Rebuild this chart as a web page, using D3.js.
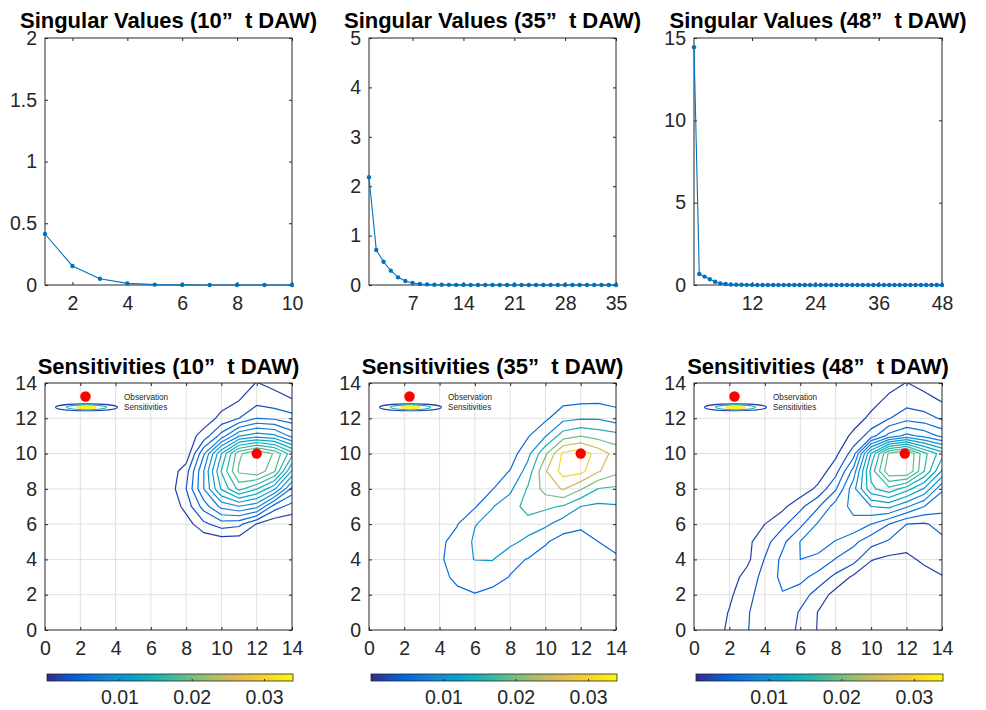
<!DOCTYPE html>
<html>
<head>
<meta charset="utf-8">
<script src="https://cdn.jsdelivr.net/npm/d3@7"></script>
<style>
  body { margin: 0; background: #fff; }
  text { font-family: "Liberation Sans", Arial, Helvetica, sans-serif; }
</style>
</head>
<body>
<svg id="fig" width="986" height="710"></svg>
<script>
// ---- data ----
const runLabels = ['10', '35', '48'];

// singular values, index 1..n
const sv10 = [0.413, 0.154, 0.051, 0.013, 0.003, 0.001, 0, 0, 0, 0];
const sv35 = [2.18, 0.71, 0.47, 0.29, 0.155, 0.08, 0.04, 0.02, 0.012, 0.006,
  0.004, 0.003, 0.002, 0.002, 0.001, 0.001, 0.001, 0, 0, 0,
  0, 0, 0, 0, 0, 0, 0, 0, 0, 0,
  0, 0, 0, 0, 0];
const sv48 = [14.44, 0.67, 0.51, 0.345, 0.2, 0.1, 0.06, 0.03, 0.02, 0.012,
  0.008, 0.006, 0.004, 0.003, 0.002, 0.002, 0.001, 0.001, 0.001, 0.001,
  0, 0, 0, 0, 0, 0, 0, 0, 0, 0,
  0, 0, 0, 0, 0, 0, 0, 0, 0, 0,
  0, 0, 0, 0, 0, 0, 0, 0];
const svYMax = [2, 5, 15];
const svYTicks = [[0, 0.5, 1, 1.5, 2], [0, 1, 2, 3, 4, 5], [0, 5, 10, 15]];
const svXTicks = [[2, 4, 6, 8, 10], [7, 14, 21, 28, 35], [12, 24, 36, 48]];

// sensitivities (x 1e-4) on the 0..14 grid; rows run from y = 14 (top) to y = 0, columns x = 0..14
const sens10 = [
  [0, 0, 0, 0, 0, 0, 0, 0, 0, 2, 5, 10, 16.5, 12, 8],
  [0, 0, 0, 0, 0, 0, 0, 0, 2, 6, 10, 16, 26, 22, 17],
  [0, 0, 0, 0, 0, 0, 0, 2, 6, 8, 20, 32, 48, 45, 38],
  [0, 0, 0, 0, 0, 0, 0, 3, 8, 22, 55, 95, 105, 100, 75],
  [0, 0, 0, 0, 0, 0, 0, 2, 4, 62, 128, 188, 210, 190, 150],
  [0, 0, 0, 0, 0, 0, 0, 5, 25, 80, 145, 195, 205, 178, 110],
  [0, 0, 0, 0, 0, 0, 0, 6, 32, 80, 130, 165, 145, 115, 60],
  [0, 0, 0, 0, 0, 0, 0, 2, 22, 55, 85, 95, 85, 40, 25],
  [0, 0, 0, 0, 0, 0, 0, 0, 8, 28, 40, 36, 15, 4, 5],
  [0, 0, 0, 0, 0, 0, 0, 0, 0, 3, 6, 6, 5, 2, 2],
  [0, 0, 0, 0, 0, 0, 0, 0, 0, 0, 0, 0, 0, 0, 0],
  [0, 0, 0, 0, 0, 0, 0, 0, 0, 0, 0, 0, 0, 0, 0],
  [0, 0, 0, 0, 0, 0, 0, 0, 0, 0, 0, 0, 0, 0, 0],
  [0, 0, 0, 0, 0, 0, 0, 0, 0, 0, 0, 0, 0, 0, 0],
  [0, 0, 0, 0, 0, 0, 0, 0, 0, 0, 0, 0, 0, 0, 0]
];
const sens35 = [
  [0, 0, 0, 0, 0, 0, 0, 0, 0, 3, 8, 15, 20, 22, 20],
  [0, 0, 0, 0, 0, 0, 0, 0, 3, 10, 20, 35, 40, 42, 35],
  [0, 0, 0, 0, 0, 0, 0, 3, 8, 20, 40, 85, 95, 95, 75],
  [0, 0, 0, 0, 0, 0, 2, 6, 10, 45, 97, 175, 198, 180, 169],
  [0, 0, 0, 0, 0, 0, 5, 12, 25, 85, 190, 310, 330, 280, 230],
  [0, 0, 0, 0, 0, 3, 12, 25, 52, 120, 245, 320, 315, 255, 215],
  [0, 0, 0, 0, 2, 10, 25, 48, 90, 155, 220, 255, 205, 148, 140],
  [0, 0, 0, 0, 10, 25, 45, 98, 125, 170, 160, 145, 100, 90, 95],
  [0, 0, 0, 0, 20, 48, 98, 115, 130, 130, 110, 75, 62, 70, 75],
  [0, 0, 0, 2, 42, 64, 108, 120, 115, 85, 55, 30, 25, 50, 60],
  [0, 0, 0, 5, 38, 88, 101, 102, 62, 48, 30, 15, 12, 25, 45],
  [0, 0, 0, 3, 30, 65, 70, 70, 48, 25, 15, 8, 5, 12, 25],
  [0, 0, 0, 0, 20, 35, 48, 35, 25, 12, 5, 3, 2, 5, 10],
  [0, 0, 0, 0, 8, 20, 25, 20, 12, 5, 2, 0, 0, 2, 4],
  [0, 0, 0, 0, 3, 10, 12, 10, 5, 2, 0, 0, 0, 0, 0]
];
const sens48 = [
  [0, 0, 0, 0, 0, 0, 0, 0, 0, 0, 4, 10, 16.5, 10, 6],
  [0, 0, 0, 0, 0, 0, 0, 0, 0, 4, 10, 20, 25, 22, 15],
  [0, 0, 0, 0, 0, 0, 0, 0, 3, 8, 20, 31, 42, 38, 30],
  [0, 0, 0, 0, 0, 0, 0, 0, 5, 20, 40, 70, 85, 75, 60],
  [0, 0, 0, 0, 0, 0, 0, 2, 12, 40, 130, 195, 212, 165, 135],
  [0, 0, 0, 0, 0, 0, 0, 6, 26, 70, 150, 205, 210, 160, 110],
  [0, 0, 0, 0, 0, 0, 5, 20, 46, 90, 140, 155, 135, 110, 66],
  [0, 0, 0, 0, 6, 12, 28, 46, 72, 84, 96, 100, 82, 64, 54],
  [0, 0, 0, 5, 16, 28, 44, 66, 76, 76, 64, 48, 32, 30, 38],
  [0, 0, 3, 12, 26, 44, 64.5, 72, 63, 52, 38, 30, 24, 22, 28],
  [0, 0, 5, 12, 33, 52, 64, 60, 47, 38, 17, 12, 11, 20, 24],
  [0, 3, 8, 22, 38, 52, 53, 42, 28, 13, 5, 4, 5, 8, 15],
  [0, 3, 13, 27, 40, 47, 40, 25, 10, 3, 2, 2, 2, 4, 8],
  [0, 6, 17, 30, 44, 46, 30, 15.5, 6, 2, 0, 0, 0, 2, 4],
  [0, 8, 19, 31, 42, 42, 28, 15, 5, 1, 0, 0, 0, 0, 0]
];
const levels10 = [16, 32, 48, 64, 80, 96, 112, 128, 144, 160, 176, 192];
const levels35 = [50, 100, 150, 200, 250, 300];
const levels48 = [16, 32, 48, 64, 80, 96, 112, 128, 144, 160, 176, 192];
const sensTicks = [0, 2, 4, 6, 8, 10, 12, 14];
const obsX = [12, 12, 11.9];
const obsY = [10, 10, 10];
const cbTicks = [0.01, 0.02, 0.03];
const cbMax = 0.034;

// ---- layout ----
const svg = d3.select('#fig');
const panelLeft = [45, 369, 694];
const panelW = [247, 247, 248];
const panelH = 247;
const topY = 38, botY = 383;
const ink = '#262626';
const tickFont = 19.5;

const parula = d3.piecewise(d3.interpolateRgb, [
  '#352a87', '#0363e1', '#1485d4', '#06a7c6', '#38b99e',
  '#92bf73', '#d9ba56', '#fcce2e', '#f9fb0e'
]);

const defs = svg.append('defs');
const grad = defs.append('linearGradient').attr('id', 'cbGrad');
d3.range(0, 1.0001, 0.05).forEach(t => {
  grad.append('stop').attr('offset', t).attr('stop-color', parula(t));
});

function styleAxis(g) {
  g.select('.domain').remove();
  g.selectAll('.tick line').attr('stroke', ink);
  g.selectAll('.tick text').attr('fill', ink)
    .style('font-size', tickFont + 'px')
    .style('font-family', '"Liberation Sans", Arial, Helvetica, sans-serif');
}

function frame(g, x, y, xTicks, yTicks, fmt) {
  const [x0, x1] = x.range();
  const [y0, y1] = y.range();
  g.append('g').attr('transform', `translate(0,${y0})`)
    .call(d3.axisBottom(x).tickValues(xTicks).tickFormat(fmt || d3.format('~g'))
      .tickSizeInner(-3).tickSizeOuter(0).tickPadding(11.5))
    .call(styleAxis);
  g.append('g').attr('transform', `translate(0,${y1})`)
    .call(d3.axisTop(x).tickValues(xTicks).tickFormat('').tickSizeInner(-3).tickSizeOuter(0))
    .call(styleAxis);
  g.append('g').attr('transform', `translate(${x0},0)`)
    .call(d3.axisLeft(y).tickValues(yTicks).tickFormat(d3.format('~g'))
      .tickSizeInner(-3).tickSizeOuter(0).tickPadding(8))
    .call(styleAxis);
  g.append('g').attr('transform', `translate(${x1},0)`)
    .call(d3.axisRight(y).tickValues(yTicks).tickFormat('').tickSizeInner(-3).tickSizeOuter(0))
    .call(styleAxis);
  g.append('rect')
    .attr('x', x0).attr('y', y1).attr('width', x1 - x0).attr('height', y0 - y1)
    .attr('fill', 'none').attr('stroke', ink).attr('stroke-width', 1);
}

function title(g, cx, yBase, str) {
  g.append('text')
    .attr('x', cx).attr('y', yBase)
    .attr('text-anchor', 'middle')
    .attr('font-weight', 'bold')
    .attr('font-size', 22)
    .attr('fill', '#000')
    .style('white-space', 'pre')
    .text(str);
}

// ---- top row: singular values ----
const svSeries = [sv10, sv35, sv48];
svSeries.forEach((vals, i) => {
  const g = svg.append('g');
  const x = d3.scaleLinear().domain([1, vals.length]).range([panelLeft[i], panelLeft[i] + panelW[i]]);
  const y = d3.scaleLinear().domain([0, svYMax[i]]).range([topY + panelH, topY]);
  frame(g, x, y, svXTicks[i], svYTicks[i]);
  const pts = vals.map((v, k) => [k + 1, v]);
  g.append('path').datum(pts)
    .attr('fill', 'none').attr('stroke', '#0072bd').attr('stroke-width', 1.1)
    .attr('d', d3.line().x(d => x(d[0])).y(d => y(d[1])));
  g.selectAll('circle.pt').data(pts).join('circle').attr('class', 'pt')
    .attr('cx', d => x(d[0])).attr('cy', d => y(d[1])).attr('r', 2.2)
    .attr('fill', '#0072bd');
  title(g, (x.range()[0] + x.range()[1]) / 2, 27.5, `Singular Values (${runLabels[i]}\u201d  t DAW)`);
});

// ---- bottom row: sensitivity contours ----
const sensGrids = [sens10, sens35, sens48];
const sensLevels = [levels10, levels35, levels48];
sensGrids.forEach((grid, i) => {
  const g = svg.append('g');
  const n = grid.length;
  const x = d3.scaleLinear().domain([0, 14]).range([panelLeft[i], panelLeft[i] + panelW[i]]);
  const y = d3.scaleLinear().domain([0, 14]).range([botY + panelH, botY]);

  // grid lines
  g.append('g').selectAll('line').data(sensTicks.slice(1, -1)).join('line')
    .attr('x1', d => x(d)).attr('x2', d => x(d)).attr('y1', y(0)).attr('y2', y(14))
    .attr('stroke', '#e0e0e0').attr('stroke-width', 1);
  g.append('g').selectAll('line').data(sensTicks.slice(1, -1)).join('line')
    .attr('y1', d => y(d)).attr('y2', d => y(d)).attr('x1', x(0)).attr('x2', x(14))
    .attr('stroke', '#e0e0e0').attr('stroke-width', 1);

  // contours
  const flat = [];
  for (let j = 0; j < n; j++) flat.push(...grid[n - 1 - j]);
  const contours = d3.contours().size([n, n]).thresholds(sensLevels[i])(flat);
  const proj = d3.geoTransform({
    point(px, py) { this.stream.point(x(px - 0.5), y(py - 0.5)); }
  });
  const clipId = 'clip' + i;
  defs.append('clipPath').attr('id', clipId).append('rect')
    .attr('x', x(0)).attr('y', y(14)).attr('width', x(14) - x(0)).attr('height', y(0) - y(14));
  g.append('g').attr('clip-path', `url(#${clipId})`)
    .selectAll('path').data(contours).join('path')
    .attr('d', d3.geoPath(proj))
    .attr('fill', 'none')
    .attr('stroke', d => parula(d.value * 1e-4 / cbMax))
    .attr('stroke-width', 1.2)
    .attr('stroke-linejoin', 'round');

  // observation
  g.append('circle')
    .attr('cx', x(obsX[i])).attr('cy', y(obsY[i])).attr('r', 5.2).attr('fill', '#ff0000');

  frame(g, x, y, sensTicks, sensTicks);

  // legend
  const lx = x(0), ly = y(14);
  const lg = g.append('g').attr('transform', `translate(${lx},${ly})`);
  lg.append('circle').attr('cx', 40.5).attr('cy', 13.5).attr('r', 5.2).attr('fill', '#ff0000');
  lg.append('ellipse').attr('cx', 41.5).attr('cy', 24.3).attr('rx', 31).attr('ry', 3.4)
    .attr('fill', 'none').attr('stroke', parula(0.05)).attr('stroke-width', 1.1);
  lg.append('ellipse').attr('cx', 41.5).attr('cy', 24.3).attr('rx', 20).attr('ry', 2.4)
    .attr('fill', 'none').attr('stroke', parula(0.45)).attr('stroke-width', 1.1);
  lg.append('ellipse').attr('cx', 41.5).attr('cy', 24.3).attr('rx', 10).attr('ry', 1.5)
    .attr('fill', parula(1)).attr('stroke', parula(0.95)).attr('stroke-width', 0.8);
  lg.append('text').attr('x', 79).attr('y', 16.8).attr('font-size', 8.2).attr('fill', ink).text('Observation');
  lg.append('text').attr('x', 79).attr('y', 27.2).attr('font-size', 8.2).attr('fill', ink).text('Sensitivities');

  title(g, (x(0) + x(14)) / 2, 373.5, `Sensitivities (${runLabels[i]}\u201d  t DAW)`);

  // colorbar
  const cb = d3.scaleLinear().domain([0, cbMax]).range([x(0) + 2, x(14) + 1]);
  const cbY = 674, cbH = 7;
  g.append('rect')
    .attr('x', cb.range()[0]).attr('y', cbY)
    .attr('width', cb.range()[1] - cb.range()[0]).attr('height', cbH)
    .attr('fill', 'url(#cbGrad)').attr('stroke', ink).attr('stroke-width', 0.8);
  g.append('g').attr('transform', `translate(0,${cbY + cbH})`)
    .call(d3.axisBottom(cb).tickValues(cbTicks).tickFormat(d3.format('.2f'))
      .tickSizeInner(-2).tickSizeOuter(0).tickPadding(9))
    .call(styleAxis);
});
</script>
</body>
</html>
